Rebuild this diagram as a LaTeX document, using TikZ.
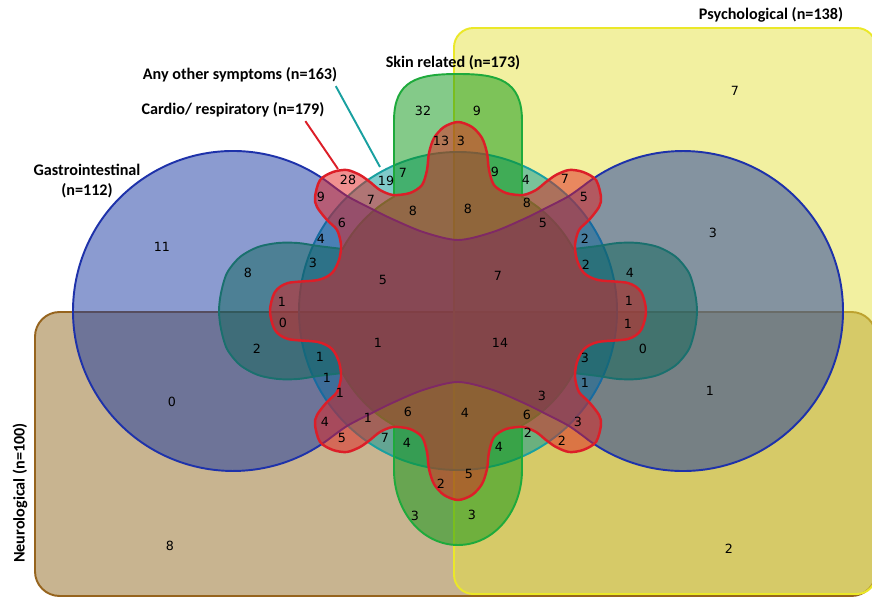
\documentclass[tikz,border=0pt]{standalone}
\usepackage{fontspec}
\newfontfamily\lblfont{Carlito}
\newfontfamily\numfont{DejaVu Sans}
\definecolor{psych}{RGB}{229,225,65}
\definecolor{psychline}{RGB}{235,232,40}
\definecolor{neuro}{RGB}{145,105,33}
\definecolor{neuroline}{RGB}{150,100,30}
\definecolor{anyoth}{RGB}{1,150,150}
\definecolor{anyothline}{RGB}{25,160,160}
\definecolor{skin}{RGB}{10,150,20}
\definecolor{skinline}{RGB}{30,170,60}
\definecolor{gastro}{RGB}{23,55,161}
\definecolor{gastroline}{RGB}{30,50,170}
\definecolor{cardio}{RGB}{225,33,33}
\definecolor{cardioline}{RGB}{220,30,40}
\begin{document}
\begin{tikzpicture}[x=0.02cm,y=-0.02cm,
  num/.style={font=\numfont\fontsize{7.2}{8}\selectfont,inner sep=0pt},
  lbl/.style={font=\lblfont\bfseries\fontsize{9.2}{11}\selectfont,inner sep=0pt},
  setarea/.style={fill opacity=0.5,line width=1.1pt}]
\useasboundingbox (0,0) rectangle (872,597);
% the two halves
\draw[setarea,draw=neuroline,fill=neuro,rounded corners=14pt] (35,312) rectangle (876,596);
\draw[setarea,draw=psychline,fill=psych,rounded corners=11pt] (454,28) rectangle (876,594);
\begin{scope}[shift={(458,311)}]
% any other symptoms
\draw[setarea,draw=anyothline,fill=anyoth] (0,0) circle[radius=159];
% skin related
\draw[setarea,draw=skinline,fill=skin] (-64,-114.3) -- (-64,-190)
  .. controls (-64,-231) and (-40,-237) .. (0,-237)
  .. controls (40,-237) and (64,-231) .. (64,-190) -- (64,-114.3)
  arc[start angle=299.25,end angle=331.75,radius=131]
  -- plot[smooth] coordinates {(115.4,-62) (140,-65) (160,-68) (180,-68) (200,-64) (218,-54) (231,-38) (237,-18) (239,0) (237,18) (231,38) (218,54) (200,64) (180,68) (160,68) (140,65) (115.4,62)}
  arc[start angle=28.25,end angle=60.75,radius=131] -- (64,159)
  .. controls (64,199) and (37,234) .. (0,234)
  .. controls (-37,234) and (-64,199) .. (-64,159) -- (-64,114.3)
  arc[start angle=119.25,end angle=151.75,radius=131]
  -- plot[smooth] coordinates {(-115.4,62) (-140,65) (-160,68) (-180,68) (-200,64) (-218,54) (-231,38) (-237,18) (-239,0) (-237,-18) (-231,-38) (-218,-54) (-200,-64) (-180,-68) (-160,-68) (-140,-65) (-115.4,-62)}
  arc[start angle=208.25,end angle=240.75,radius=131] -- cycle;
% gastrointestinal
\draw[setarea,draw=gastroline,fill=gastro] (-130,128.7)
  arc[start angle=53.57,end angle=306.43,radius=160]
  -- plot[smooth] coordinates {(-130,-128.7) (-111,-115) (-88,-103) (-68,-93) (-35,-79) (0,-71) (35,-79) (68,-93) (88,-103) (111,-115) (130,-128.7)}
  arc[start angle=233.57,end angle=486.43,radius=160]
  -- plot[smooth] coordinates {(130,128.7) (111,115) (88,103) (68,93) (35,79) (0,71) (-35,79) (-68,93) (-88,103) (-111,115) (-130,128.7)}
  -- cycle;
% cardio/ respiratory
\draw[setarea,line width=1.4pt,draw=cardioline,fill=cardio] plot[smooth cycle] coordinates {
  (0,-189) (-14,-184) (-24,-173) (-29,-158) (-31,-141) (-36,-126) (-48,-118) (-65,-116) (-78,-121) (-88,-129) (-98,-136) (-111,-141) (-125,-139) (-138,-131) (-143,-114) (-141,-104) (-131,-91) (-121,-81) (-117,-66) (-119,-51) (-126,-38) (-140,-31) (-170,-28) (-183,-19) (-188,0)
  (-183,19) (-170,28) (-140,31) (-126,38) (-119,51) (-117,66) (-121,81) (-131,91) (-141,104) (-143,114) (-138,131) (-125,139) (-111,141) (-98,136) (-88,129) (-78,121) (-65,116) (-48,118) (-36,126) (-31,141) (-29,158) (-24,173) (-14,184) (0,189)
  (14,184) (24,173) (29,158) (31,141) (36,126) (48,118) (65,116) (78,121) (88,129) (98,136) (111,141) (125,139) (138,131) (143,114) (141,104) (131,91) (121,81) (117,66) (119,51) (126,38) (140,31) (170,28) (183,19) (188,0)
  (183,-19) (170,-28) (140,-31) (126,-38) (119,-51) (117,-66) (121,-81) (131,-91) (141,-104) (143,-114) (138,-131) (125,-139) (111,-141) (98,-136) (88,-129) (78,-121) (65,-116) (48,-118) (36,-126) (31,-141) (29,-158) (24,-173) (14,-184)};
\end{scope}
% region counts
\foreach \v/\x/\y [count=\k] in {32/423/111, 9/477/111, 13/441/141, 3/461/141, 28/348/180, 19/386/181, 7/403/173, 9/495/172, 4/526/180, 7/565/179,
  9/321/197, 7/371/200, 8/413/211, 8/468/209, 8/527/203, 5/584/197, 6/342/223, 5/543/223, 4/321/239, 2/585/239,
  3/313/263, 2/586/265, 5/383/280, 7/498/276, 8/248/273, 4/630/273, 1/282/302, 1/629/301, 0/283/323, 1/628/324,
  2/257/349, 0/643/349, 1/378/343, 14/500/343, 1/320/357, 3/585/358, 1/327/378, 1/585/383, 1/340/393, 3/542/396,
  4/325/422, 1/368/418, 6/408/412, 4/465/413, 6/527/415, 3/578/422, 5/342/438, 7/385/438, 4/407/443, 2/528/433,
  2/562/441, 4/499/447, 2/441/484, 5/469/474, 3/415/516, 3/472/515, 11/162/247, 7/735/91, 3/713/233, 0/172/402,
  1/710/391, 8/170/546, 2/729/549}
  \node[num] (c\k) at (\x,\y) {\v};
% set names
\node[lbl] (psychlbl) at (771,15) {Psychological (n=138)};
\node[lbl] (skinlbl) at (453,63) {Skin related (n=173)};
\node[lbl] (anyothlbl) at (240,75) {Any other symptoms (n=163)};
\node[lbl] (cardiolbl) at (233,110) {Cardio/ respiratory (n=179)};
\node[lbl,align=center] (gastrolbl) at (87,181) {Gastrointestinal\\(n=112)};
\node[lbl,rotate=90] (neurolbl) at (20,493) {Neurological (n=100)};
\coordinate (cardiotip) at (338,169);
\coordinate (anytip) at (380,167);
\draw[cardioline,line width=1.1pt] ([xshift=-11pt,yshift=-2pt]cardiolbl.south east) -- (cardiotip);
\draw[anyothline,line width=1.1pt] ([xshift=-1pt,yshift=-2pt]anyothlbl.south east) -- (anytip);
\end{tikzpicture}
\end{document}
